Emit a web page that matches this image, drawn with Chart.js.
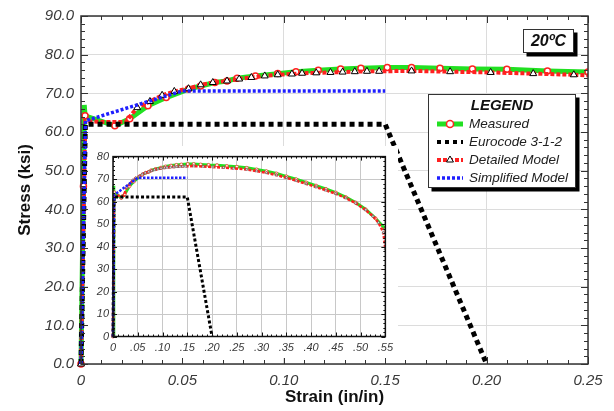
<!DOCTYPE html>
<html>
<head>
<meta charset="utf-8">
<title>Stress-strain 20ºC</title>
<script src="https://cdn.jsdelivr.net/npm/chart.js@4.4.1/dist/chart.umd.min.js"></script>
<style>
  html, body { margin: 0; padding: 0; background: #fff; }
  #wrap { position: relative; width: 614px; height: 411px; overflow: hidden; }
  #mainChart { position: absolute; left: 0; top: 0; }
  #insetChart { position: absolute; left: 88px; top: 146px; background: #fff; }
</style>
</head>
<body>
<div id="wrap">
  <canvas id="mainChart" width="614" height="411"></canvas>
  <canvas id="insetChart" width="310" height="212"></canvas>
</div>
<script>
// data (strain in/in, stress ksi)
const measuredStrain = [0, 0.0012, 0.0016, 0.002, 0.0167, 0.024, 0.033, 0.042, 0.053, 0.059, 0.066, 0.072, 0.077, 0.086, 0.097, 0.106, 0.117, 0.128, 0.138, 0.151, 0.163, 0.177, 0.193, 0.21, 0.23, 0.25, 0.27, 0.29, 0.31, 0.33, 0.35, 0.37, 0.39, 0.41, 0.43, 0.45, 0.47, 0.49, 0.51, 0.53, 0.55];
const measuredStress = [0, 46, 67, 64.2, 61.6, 63.4, 66.8, 68.9, 71.1, 71.9, 72.8, 73.2, 73.9, 74.5, 75.1, 75.6, 76.0, 76.3, 76.5, 76.7, 76.7, 76.5, 76.3, 76.2, 75.8, 75.5, 75.0, 74.3, 73.5, 72.5, 71.2, 69.9, 68.5, 67.1, 65.6, 64.0, 62.0, 59.6, 56.6, 52.6, 47.8];

const detailedStrain = [0, 0.0021, 0.012, 0.022, 0.0277, 0.034, 0.040, 0.046, 0.053, 0.059, 0.065, 0.072, 0.078, 0.084, 0.0906, 0.097, 0.104, 0.109, 0.116, 0.123, 0.129, 0.135, 0.141, 0.147, 0.163, 0.182, 0.202, 0.223, 0.243, 0.27, 0.29, 0.31, 0.33, 0.35, 0.37, 0.39, 0.41, 0.43, 0.45, 0.47, 0.49, 0.51, 0.525, 0.536, 0.546, 0.55];
const detailedStress = [0, 62.8, 62.6, 62.6, 66.3, 67.9, 69.5, 70.5, 71.2, 72.2, 72.8, 73.2, 73.7, 74.1, 74.5, 74.8, 75.0, 75.2, 75.3, 75.4, 75.5, 75.6, 75.7, 75.7, 75.8, 75.6, 75.4, 75.1, 74.8, 74.3, 73.6, 72.8, 71.8, 70.6, 69.3, 67.9, 66.5, 65.0, 63.5, 61.6, 59.3, 56.3, 53.5, 50.7, 46.3, 39.0];

const eurocodeStrain = [0, 0.00214, 0.15, 0.20];
const eurocodeStress = [0, 62.0, 62.0, 0];

const simplifiedStrain = [0, 0.0022, 0.05, 0.15];
const simplifiedStress = [0, 62.9, 70.6, 70.6];

const mainXLabels = ['0', '0.05', '0.10', '0.15', '0.20', '0.25'];
const mainYLabels = ['0.0', '10.0', '20.0', '30.0', '40.0', '50.0', '60.0', '70.0', '80.0', '90.0'];
const insetXLabels = ['0', '.05', '.10', '.15', '.20', '.25', '.30', '.35', '.40', '.45', '.50', '.55'];
const insetYLabels = ['0', '10', '20', '30', '40', '50', '60', '70', '80'];
const seriesNames = ['Measured', 'Eurocode 3-1-2', 'Detailed Model', 'Simplified Model'];
const tempLabel = '20ºC';

const FONT = "'Liberation Sans', Arial, sans-serif";
const GREEN = '#22e022', RED = '#ff2020', BLUE = '#1f1fff', BLACK = '#000';

const toPoints = (xs, ys) => xs.map((x, i) => ({ x: x, y: ys[i] }));

function buildDatasets(big) {
    const mRad = big ? 3 : 1.5;
    const tRad = big ? 4 : 1.6;
    return [
        {
            label: seriesNames[3],
            data: toPoints(simplifiedStrain, simplifiedStress),
            borderColor: BLUE,
            borderWidth: big ? 3.5 : 2.5,
            borderDash: big ? [3, 2] : [2.5, 1.5],
            pointRadius: 0
        },
        {
            label: seriesNames[1],
            data: toPoints(eurocodeStrain, eurocodeStress),
            borderColor: BLACK,
            borderWidth: big ? 5 : 3,
            borderDash: big ? [5, 4] : [3, 2.2],
            pointRadius: 0
        },
        {
            label: seriesNames[2],
            data: toPoints(detailedStrain, detailedStress),
            borderColor: RED,
            borderWidth: big ? 4 : 2.6,
            borderDash: big ? [4, 2] : [3, 1.5],
            pointStyle: 'triangle',
            // no markers on the short yield plateau
            pointRadius: ctx => (ctx.raw && ctx.raw.x > 0 && ctx.raw.x < 0.025) ? 0 : tRad,
            pointBackgroundColor: '#fff',
            pointBorderColor: big ? BLACK : '#555',
            pointBorderWidth: big ? 1 : 0.6
        },
        {
            label: seriesNames[0],
            data: toPoints(measuredStrain, measuredStress),
            borderColor: GREEN,
            borderWidth: big ? 5 : 3,
            pointStyle: 'circle',
            pointRadius: ctx => ctx.dataIndex === 2 ? 0 : mRad,
            pointBackgroundColor: '#fff',
            pointBorderColor: RED,
            pointBorderWidth: big ? 1.5 : 0.7
        }
    ].map(ds => Object.assign({ fill: false, tension: 0, clip: { left: 6, top: 0, right: 0, bottom: 6 } }, ds));
}

// border box + inward major/minor ticks on all four sides
function framePlugin(cfg) {
    return {
        id: 'frame',
        afterDraw(chart) {
            const { ctx, chartArea: a, scales } = chart;
            const marks = (scale, minor, every, draw) => {
                const n = Math.round((scale.max - scale.min) / minor);
                for (let i = 0; i <= n; i++) {
                    const p = Math.round(scale.getPixelForValue(scale.min + i * minor)) + 0.5;
                    draw(p, i % every === 0 ? cfg.major : cfg.minor);
                }
            };
            ctx.save();
            ctx.strokeStyle = cfg.color;
            ctx.lineWidth = 1;
            ctx.beginPath();
            marks(scales.x, cfg.xMinor, cfg.xEvery, (p, len) => {
                ctx.moveTo(p, a.bottom); ctx.lineTo(p, a.bottom - len);
                ctx.moveTo(p, a.top); ctx.lineTo(p, a.top + len);
            });
            marks(scales.y, cfg.yMinor, cfg.yEvery, (p, len) => {
                ctx.moveTo(a.left, p); ctx.lineTo(a.left + len, p);
                ctx.moveTo(a.right, p); ctx.lineTo(a.right - len, p);
            });
            ctx.stroke();
            ctx.lineWidth = cfg.border;
            ctx.strokeRect(a.left, a.top, a.right - a.left, a.bottom - a.top);
            ctx.restore();
        }
    };
}

function shadowBox(ctx, x, y, w, h) {
    ctx.fillStyle = '#000';
    ctx.fillRect(x + 3.5, y + 3.5, w, h);
    ctx.fillStyle = '#fff';
    ctx.fillRect(x, y, w, h);
    ctx.strokeStyle = '#333';
    ctx.lineWidth = 1;
    ctx.strokeRect(x + 0.5, y + 0.5, w - 1, h - 1);
}

function triangle(ctx, cx, cy, r) {
    ctx.beginPath();
    ctx.moveTo(cx, cy - r);
    ctx.lineTo(cx - r * 0.87, cy + r * 0.5);
    ctx.lineTo(cx + r * 0.87, cy + r * 0.5);
    ctx.closePath();
    ctx.fillStyle = '#fff';
    ctx.fill();
    ctx.strokeStyle = '#000';
    ctx.lineWidth = 1;
    ctx.stroke();
}

const legendPlugin = {
    id: 'legendBox',
    afterDraw(chart) {
        const ctx = chart.ctx;
        ctx.save();

        // temperature tag
        shadowBox(ctx, 523, 29, 51, 24);
        ctx.fillStyle = '#111';
        ctx.font = 'italic bold 16px ' + FONT;
        ctx.textAlign = 'center';
        ctx.textBaseline = 'middle';
        ctx.fillText(tempLabel, 548.5, 41.5);

        // legend
        shadowBox(ctx, 428, 94, 148, 94);
        ctx.fillStyle = '#111';
        ctx.font = 'italic bold 15px ' + FONT;
        ctx.fillText('LEGEND', 502, 106);

        const rows = [124, 142, 160, 178];
        const x0 = 437, x1 = 463, xm = 450;
        const line = (y, color, width, dash) => {
            ctx.beginPath();
            ctx.setLineDash(dash);
            ctx.strokeStyle = color;
            ctx.lineWidth = width;
            ctx.moveTo(x0, y); ctx.lineTo(x1, y);
            ctx.stroke();
            ctx.setLineDash([]);
        };
        line(rows[0], GREEN, 5, []);
        ctx.beginPath();
        ctx.arc(xm, rows[0], 3.5, 0, Math.PI * 2);
        ctx.fillStyle = '#fff'; ctx.fill();
        ctx.strokeStyle = RED; ctx.lineWidth = 1.5; ctx.stroke();
        line(rows[1], BLACK, 4, [4, 4]);
        line(rows[2], RED, 4, [4, 2]);
        triangle(ctx, xm, rows[2], 4);
        line(rows[3], BLUE, 3.5, [3, 2]);

        ctx.fillStyle = '#222';
        ctx.font = 'italic 13.5px ' + FONT;
        ctx.textAlign = 'left';
        seriesNames.forEach((name, i) => ctx.fillText(name, 469, rows[i] + 0.5));
        ctx.restore();
    }
};

function axis(min, max, step, labels, size, pad, fit, gridColor) {
    return {
        type: 'linear',
        min: min,
        max: max,
        afterFit: fit,
        border: { display: false },
        grid: { color: gridColor, lineWidth: 1, drawTicks: false },
        ticks: {
            stepSize: step,
            autoSkip: false,
            maxRotation: 0,
            padding: pad,
            color: '#3a3a3a',
            font: { family: FONT, size: size, style: 'italic' },
            callback: (v, i) => labels[i]
        }
    };
}

// main chart
const mainX = axis(0, 0.25, 0.05, mainXLabels, 15, 8, s => { s.height = 47; }, '#dcdcdc');
mainX.title = { display: true, text: 'Strain (in/in)', color: '#111', font: { family: FONT, size: 17, weight: 'bold' }, padding: { top: 0, bottom: 3 } };
const mainY = axis(0, 90, 10, mainYLabels, 15, 7, s => { s.width = 81; }, '#dcdcdc');
mainY.title = { display: true, text: 'Stress (ksi)', color: '#111', font: { family: FONT, size: 17, weight: 'bold' }, padding: { top: 15, bottom: 0 } };

new Chart(document.getElementById('mainChart'), {
    type: 'line',
    data: { datasets: buildDatasets(true) },
    options: {
        responsive: false,
        animation: false,
        devicePixelRatio: 1,
        events: [],
        layout: { padding: { top: 15, right: 26, left: 0, bottom: 0 } },
        plugins: { legend: { display: false }, tooltip: { enabled: false } },
        scales: { x: mainX, y: mainY }
    },
    plugins: [framePlugin({ color: '#333', border: 1.5, major: 7, minor: 4, xMinor: 0.01, xEvery: 5, yMinor: 2, yEvery: 5 }), legendPlugin]
});

// inset chart, full strain range
new Chart(document.getElementById('insetChart'), {
    type: 'line',
    data: { datasets: buildDatasets(false) },
    options: {
        responsive: false,
        animation: false,
        devicePixelRatio: 1,
        events: [],
        layout: { padding: { top: 8.7, right: 11.4, left: 0, bottom: 0 } },
        plugins: { legend: { display: false }, tooltip: { enabled: false } },
        scales: {
            x: axis(0, 0.55, 0.05, insetXLabels, 11, 5, s => { s.height = 21.5; }, '#c8c8c8'),
            y: axis(0, 80, 10, insetYLabels, 11, 4, s => { s.width = 25; }, '#c8c8c8')
        }
    },
    plugins: [framePlugin({ color: '#111', border: 1.5, major: 4, minor: 2, xMinor: 0.01, xEvery: 5, yMinor: 2, yEvery: 5 })]
});
</script>
</body>
</html>
